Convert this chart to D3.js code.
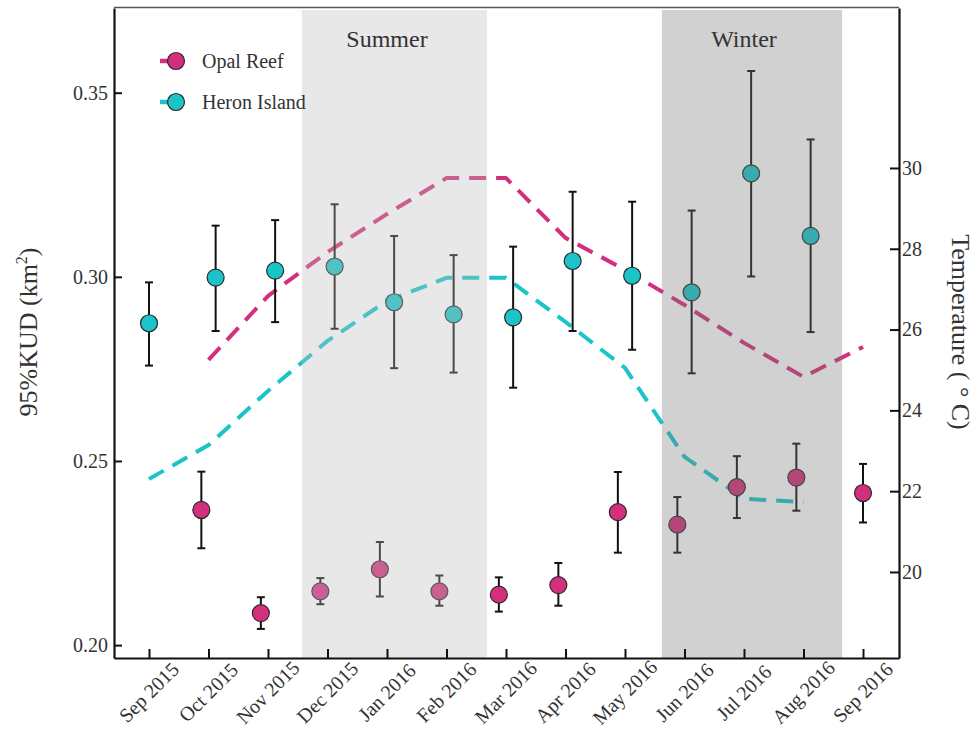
<!DOCTYPE html>
<html>
<head>
<meta charset="utf-8">
<script src="https://cdn.jsdelivr.net/npm/d3@7"></script>
<style>
  html, body { margin: 0; padding: 0; background: #fff; }
  svg { display: block; }
  text { font-family: "Liberation Serif", "Times New Roman", serif; fill: #333; }
</style>
</head>
<body>
<svg id="chart" width="974" height="731"></svg>
<script>
// ---- data ----
const months = ["Sep 2015","Oct 2015","Nov 2015","Dec 2015","Jan 2016","Feb 2016","Mar 2016",
                "Apr 2016","May 2016","Jun 2016","Jul 2016","Aug 2016","Sep 2016"];

const opalKUD  = [null, 0.2367, 0.2087, 0.2146, 0.2206, 0.2146, 0.2137, 0.2163, 0.2361, 0.2327, 0.2429, 0.2455, 0.2413];
const opalHigh = [null, 0.2471, 0.2130, 0.2182, 0.2280, 0.2189, 0.2184, 0.2223, 0.2470, 0.2402, 0.2513, 0.2547, 0.2492];
const opalLow  = [null, 0.2263, 0.2044, 0.2111, 0.2132, 0.2107, 0.2091, 0.2107, 0.2251, 0.2251, 0.2345, 0.2365, 0.2333];

const heronKUD  = [0.2874, 0.2998, 0.3017, 0.3028, 0.2931, 0.2898, 0.2890, 0.3043, 0.3003, 0.2958, 0.3281, 0.3111, null];
const heronHigh = [0.2985, 0.3139, 0.3154, 0.3197, 0.3111, 0.3059, 0.3082, 0.3231, 0.3204, 0.3180, 0.3559, 0.3373, null];
const heronLow  = [0.2759, 0.2853, 0.2877, 0.2859, 0.2752, 0.2740, 0.2699, 0.2853, 0.2802, 0.2738, 0.3001, 0.2850, null];

const opalTemp  = [null, 25.25, 26.83, 27.92, 28.86, 29.75, 29.75, 28.27, 27.48, 26.61, 25.67, 24.83, 25.57];
const heronTemp = [22.30, 23.14, 24.48, 25.72, 26.71, 27.28, 27.28, 26.19, 25.05, 22.85, 21.81, 21.73, null];

const kudTicks  = [0.20, 0.25, 0.30, 0.35];
const tempTicks = [20, 22, 24, 26, 28, 30];

const seasons = [
  { name: "Summer", start: 2.57, end: 5.68, labelAt: 4 },
  { name: "Winter", start: 8.62, end: 11.65, labelAt: 10 }
];

const seriesNames = ["Opal Reef", "Heron Island"];
const seriesColors = ["#d42f7c", "#1bc4c9"];

// ---- layout ----
const svg = d3.select("#chart");
const L = 114, R = 899, T = 8, B = 658;

const x = d3.scaleLinear().domain([-0.588, 12.605]).range([L, R]);
const y = d3.scaleLinear().domain([0.1965, 0.3730]).range([B, T]);
const yT = d3.scaleLinear().domain([17.87, 33.96]).range([B, T]);

const dodge = 0.12;

// ---- temperature lines ----
const tempLine = d3.line()
  .defined(d => d.v != null)
  .x(d => x(d.i))
  .y(d => yT(d.v));

[opalTemp, heronTemp].forEach((arr, k) => {
  svg.append("path")
    .datum(arr.map((v, i) => ({ i, v })))
    .attr("d", tempLine)
    .attr("fill", "none")
    .attr("stroke", seriesColors[k])
    .attr("stroke-width", 4)
    .attr("stroke-dasharray", "17,10");
});

// ---- error bars and points ----
function drawSeries(vals, lo, hi, other, sign, color) {
  const data = vals.map((v, i) => ({ i, v, lo: lo[i], hi: hi[i],
    xi: i + (other[i] != null ? sign * dodge : 0) })).filter(d => d.v != null);
  const g = svg.append("g");
  g.selectAll("line.eb").data(data).join("line")
    .attr("x1", d => x(d.xi)).attr("x2", d => x(d.xi))
    .attr("y1", d => y(d.lo)).attr("y2", d => y(d.hi))
    .attr("stroke", "#111").attr("stroke-width", 2);
  ["lo", "hi"].forEach(key => {
    g.selectAll("line.cap" + key).data(data).join("line")
      .attr("x1", d => x(d.xi) - 4).attr("x2", d => x(d.xi) + 4)
      .attr("y1", d => y(d[key])).attr("y2", d => y(d[key]))
      .attr("stroke", "#111").attr("stroke-width", 2);
  });
  g.selectAll("circle").data(data).join("circle")
    .attr("cx", d => x(d.xi)).attr("cy", d => y(d.v)).attr("r", 8.5)
    .attr("fill", color).attr("stroke", "#2a2a2a").attr("stroke-width", 1.2);
}
drawSeries(opalKUD, opalLow, opalHigh, heronKUD, -1, seriesColors[0]);
drawSeries(heronKUD, heronLow, heronHigh, opalKUD, 1, seriesColors[1]);

// ---- season overlays ----
const seasonFill = [{ c: "rgb(188,188,188)", o: 0.34 }, { c: "rgb(119,119,119)", o: 0.337 }];
seasons.forEach((s, k) => {
  svg.append("rect")
    .attr("x", x(s.start)).attr("width", x(s.end) - x(s.start))
    .attr("y", T + 2).attr("height", B - T - 2)
    .attr("fill", seasonFill[k].c).attr("fill-opacity", seasonFill[k].o);
  svg.append("text")
    .attr("x", x(s.labelAt)).attr("y", 47)
    .attr("text-anchor", "middle")
    .style("font-size", "24px")
    .text(s.name);
});

// ---- axes ----
const axL = svg.append("g").attr("transform", `translate(${L},0)`)
  .call(d3.axisLeft(y).tickValues(kudTicks).tickFormat(d3.format(".2f"))
        .tickSizeInner(-8).tickSizeOuter(0).tickPadding(6));
const axR = svg.append("g").attr("transform", `translate(${R},0)`)
  .call(d3.axisRight(yT).tickValues(tempTicks).tickFormat(d3.format("d"))
        .tickSizeInner(-9).tickSizeOuter(0).tickPadding(3));
const axB = svg.append("g").attr("transform", `translate(0,${B})`)
  .call(d3.axisBottom(x).tickValues(d3.range(months.length)).tickFormat(i => months[i])
        .tickSizeInner(-9).tickSizeOuter(0));

[axL, axR, axB].forEach(ax => {
  ax.select(".domain").attr("stroke", "#111").attr("stroke-width", 2.2);
  ax.selectAll(".tick line").attr("stroke", "#111").attr("stroke-width", 2);
  ax.selectAll(".tick text").style("font-family", "Liberation Serif, serif")
    .style("font-size", "20px").attr("fill", "#333");
});
axB.selectAll(".tick text")
  .attr("text-anchor", "middle")
  .attr("y", 0).attr("dy", 0)
  .attr("transform", "translate(1,36) rotate(-45)")
  .attr("dominant-baseline", "middle");

// top border
svg.append("line").attr("x1", L).attr("x2", R).attr("y1", T - 0.5).attr("y2", T - 0.5)
  .attr("stroke", "#555").attr("stroke-width", 1.6);

// ---- axis titles ----
const lt = svg.append("text")
  .attr("transform", "translate(37,332) rotate(-90)")
  .attr("text-anchor", "middle")
  .style("font-size", "26px");
lt.append("tspan").text("95%KUD (km");
lt.append("tspan").attr("dy", -10).style("font-size", "16px").text("2");
lt.append("tspan").attr("dy", 10).text(")");

svg.append("text")
  .attr("transform", "translate(952,332) rotate(90)")
  .attr("text-anchor", "middle")
  .style("font-size", "26px")
  .text("Temperature ( ° C)");

// ---- legend ----
const legY = [61, 102];
seriesNames.forEach((n, k) => {
  const g = svg.append("g");
  g.append("line").attr("x1", 160).attr("x2", 172).attr("y1", legY[k]).attr("y2", legY[k])
    .attr("stroke", seriesColors[k]).attr("stroke-width", 4.5);
  g.append("circle").attr("cx", 176).attr("cy", legY[k]).attr("r", 8.5)
    .attr("fill", seriesColors[k]).attr("stroke", "#2a2a2a").attr("stroke-width", 1.2);
  g.append("text").attr("x", 202).attr("y", legY[k] + 7)
    .style("font-size", "20px").text(n);
});
</script>
</body>
</html>
